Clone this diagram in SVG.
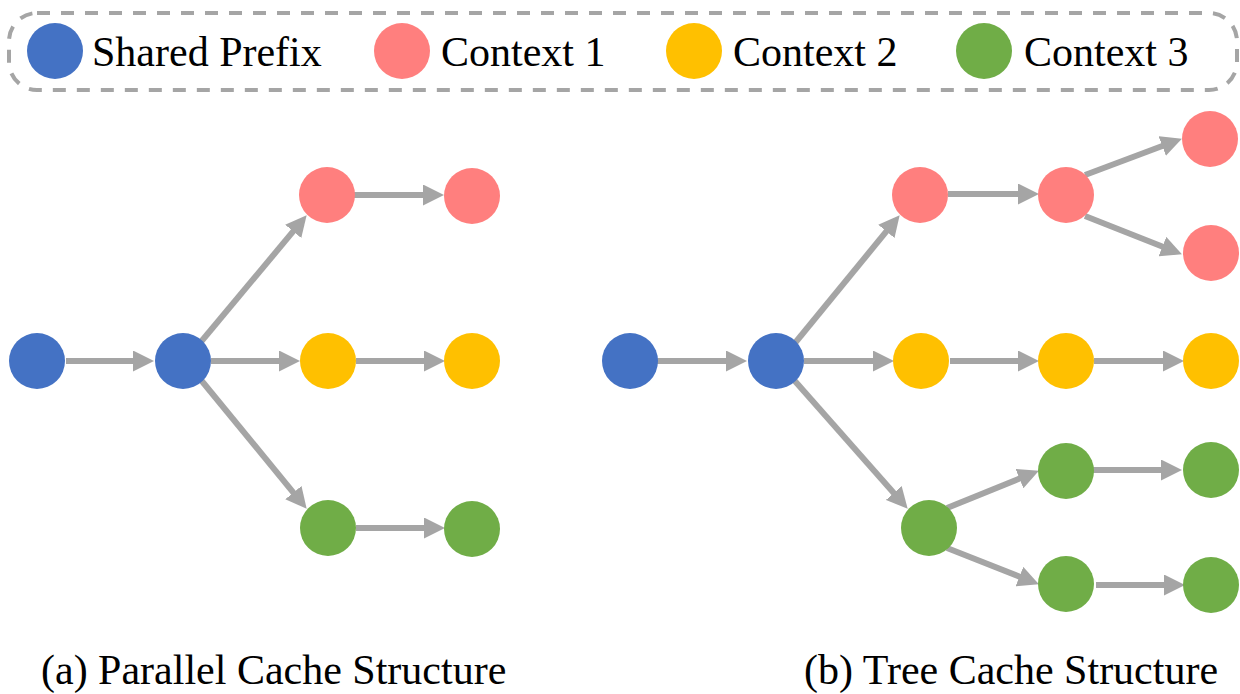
<svg xmlns="http://www.w3.org/2000/svg" width="1240" height="694" viewBox="0 0 1240 694">
<style>
.txt{font-family:"Liberation Serif","Times New Roman",serif;font-size:42px;fill:#000}
.blue{fill:#4472C4}.red{fill:#FF7F7E}.yel{fill:#FFC000}.grn{fill:#70AD47}
.edge{stroke:#A5A5A5;stroke-width:6;fill:none;marker-end:url(#ah)}
</style>
<defs>
<marker id="ah" markerUnits="userSpaceOnUse" markerWidth="21" markerHeight="21" refX="10" refY="10.5" orient="auto">
<path d="M0,0 L21,10.5 L0,21 z" fill="#A5A5A5"/>
</marker>
</defs>
<rect width="1240" height="694" fill="#fff"/>
<g id="legend">
<rect x="9" y="13" width="1228" height="77" rx="28" ry="28" fill="none" stroke="#A5A5A5" stroke-width="4" stroke-dasharray="13 11"/>
<circle class="blue" cx="55" cy="51" r="28"/>
<text class="txt" x="92" y="66">Shared Prefix</text>
<circle class="red" cx="402" cy="51" r="28"/>
<text class="txt" x="441" y="66">Context 1</text>
<circle class="yel" cx="694" cy="51" r="28"/>
<text class="txt" x="733" y="66">Context 2</text>
<circle class="grn" cx="984" cy="51" r="28"/>
<text class="txt" x="1024" y="66">Context 3</text>
</g>
<g id="connectors">
<line class="edge" x1="66" y1="361" x2="143" y2="361"/>
<line class="edge" x1="200" y1="343" x2="299.6" y2="223.7"/>
<line class="edge" x1="211" y1="361" x2="289" y2="361"/>
<line class="edge" x1="201" y1="380" x2="299.7" y2="500.3"/>
<line class="edge" x1="354" y1="195" x2="433" y2="195"/>
<line class="edge" x1="356" y1="361" x2="434" y2="361"/>
<line class="edge" x1="356" y1="528" x2="434" y2="528"/>
<line class="edge" x1="657" y1="361" x2="736" y2="361"/>
<line class="edge" x1="795" y1="343" x2="892.7" y2="223.7"/>
<line class="edge" x1="804" y1="361" x2="883" y2="361"/>
<line class="edge" x1="794" y1="380" x2="900.4" y2="500.5"/>
<line class="edge" x1="948" y1="194" x2="1028" y2="194"/>
<line class="edge" x1="1085" y1="175" x2="1171.6" y2="142.5"/>
<line class="edge" x1="1085" y1="216" x2="1171.7" y2="250.3"/>
<line class="edge" x1="950" y1="361" x2="1028" y2="361"/>
<line class="edge" x1="1094" y1="361" x2="1173" y2="361"/>
<line class="edge" x1="947" y1="508" x2="1028.7" y2="474.8"/>
<line class="edge" x1="947" y1="548" x2="1028.7" y2="580.3"/>
<line class="edge" x1="1093" y1="470" x2="1171" y2="470"/>
<line class="edge" x1="1096" y1="585" x2="1174" y2="585"/>
</g>
<g id="a-p1"><circle class="blue" cx="37" cy="361" r="28"/></g>
<g id="a-p2"><circle class="blue" cx="183" cy="361" r="28"/></g>
<g id="a-r1"><circle class="red" cx="327" cy="195" r="28"/></g>
<g id="a-r2"><circle class="red" cx="472" cy="196" r="28"/></g>
<g id="a-y1"><circle class="yel" cx="328" cy="361" r="28"/></g>
<g id="a-y2"><circle class="yel" cx="472" cy="361" r="28"/></g>
<g id="a-g1"><circle class="grn" cx="328" cy="528" r="28"/></g>
<g id="a-g2"><circle class="grn" cx="472" cy="529" r="28"/></g>
<g id="b-p1"><circle class="blue" cx="630" cy="361" r="28"/></g>
<g id="b-p2"><circle class="blue" cx="776" cy="361" r="28"/></g>
<g id="b-r1"><circle class="red" cx="920" cy="195" r="28"/></g>
<g id="b-r2"><circle class="red" cx="1066" cy="195" r="28"/></g>
<g id="b-r3"><circle class="red" cx="1210" cy="139" r="28"/></g>
<g id="b-r4"><circle class="red" cx="1211" cy="253" r="28"/></g>
<g id="b-y1"><circle class="yel" cx="921" cy="361" r="28"/></g>
<g id="b-y2"><circle class="yel" cx="1066" cy="361" r="28"/></g>
<g id="b-y3"><circle class="yel" cx="1211" cy="361" r="28"/></g>
<g id="b-g1"><circle class="grn" cx="929" cy="528" r="28"/></g>
<g id="b-g2"><circle class="grn" cx="1066" cy="471" r="28"/></g>
<g id="b-g3"><circle class="grn" cx="1211" cy="470" r="28"/></g>
<g id="b-g4"><circle class="grn" cx="1066" cy="584" r="28"/></g>
<g id="b-g5"><circle class="grn" cx="1211" cy="585" r="28"/></g>
<g id="captions">
<text class="txt" x="41" y="684">(a) Parallel Cache Structure</text>
<text class="txt" x="804" y="684">(b) Tree Cache Structure</text>
</g>
</svg>
